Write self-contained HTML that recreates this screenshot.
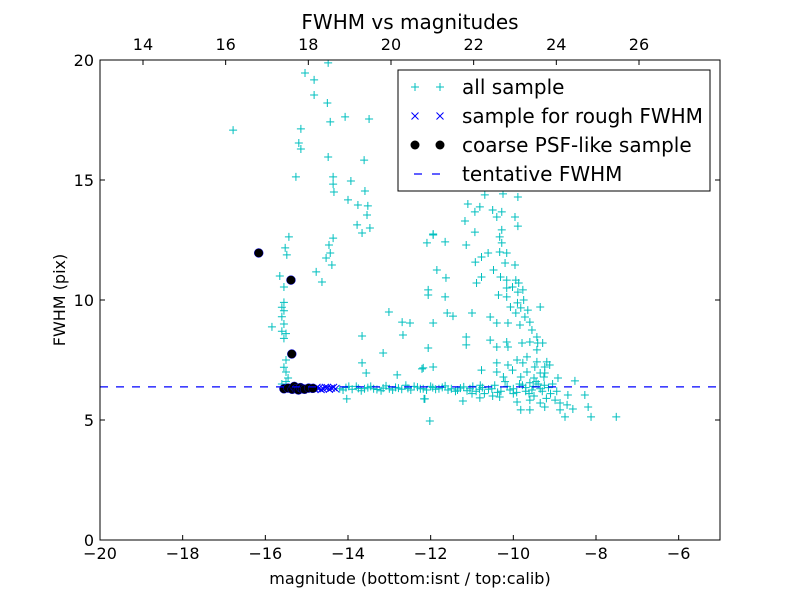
<!DOCTYPE html>
<html><head><meta charset="utf-8"><style>
body{margin:0;background:#fff;}
svg{display:block;font-family:"DejaVu Sans","Liberation Sans",sans-serif;}
</style></head><body>
<svg id="chart" width="800" height="600" viewBox="0 0 800 600" xmlns="http://www.w3.org/2000/svg">
<rect width="800" height="600" fill="#fff"/>
<g id="marks"></g>
<g id="axes"></g>
</svg>
<script>
const xTicks = [-20,-18,-16,-14,-12,-10,-8,-6];
const topTicks = [14,16,18,20,22,24,26];
const yTicks = [0,5,10,15,20];
const topOffset = 32.96;
const tentativeFwhm = 6.38;
const allSample = [
[-15.04,19.46],[-14.82,19.17],[-14.82,18.54],[-14.5,18.21],[-14.48,19.88],[-14.43,17.42],[-15.14,17.13],[-15.19,16.54],[-15.14,16.29],[-14.48,15.96],[-15.26,15.13],[-14.36,15.13],[-14.36,14.83],[-14.34,14.5],[-14.07,17.63],[-13.49,17.54],[-13.61,15.83],[-13.93,14.96],[-13.59,14.54],[-14.0,14.17],[-13.76,13.96],[-13.52,13.92],[-13.54,13.54],[-13.78,13.13],[-13.47,13.0],[-13.66,12.79],[-14.36,12.58],[-14.46,12.29],[-14.43,11.96],[-14.53,11.75],[-14.39,11.46],[-14.77,11.17],[-14.63,10.75],[-15.43,12.63],[-15.52,12.17],[-15.48,11.88],[-15.65,11.0],[-15.55,10.54],[-15.84,8.88],[-13.01,9.5],[-12.69,9.08],[-12.5,9.04],[-12.67,8.54],[-13.66,8.5],[-13.15,7.79],[-13.66,7.38],[-13.56,6.96],[-12.81,6.88],[-12.21,7.13],[-11.94,7.21],[-12.06,8.0],[-11.94,9.04],[-12.06,10.42],[-11.85,11.25],[-11.94,12.71],[-12.09,12.38],[-14.03,5.88],[-12.14,5.88],[-16.78,17.08],
[-15.6,9.7],[-15.55,9.55],[-15.6,9.3],[-15.55,9.0],[-15.6,8.7],[-15.5,8.6],[-15.55,8.4],[-15.5,7.5],[-15.55,7.2],[-15.5,7.0],[-15.45,6.75],[-15.5,6.6],[-15.6,6.5],[-15.55,9.9],
[-10.69,14.38],[-10.25,14.42],[-9.89,14.29],[-11.1,14.0],[-10.81,13.88],[-10.93,13.67],[-10.5,13.75],[-10.28,13.67],[-11.17,13.29],[-10.4,13.46],[-9.96,13.46],[-9.89,13.08],[-10.93,12.83],[-10.28,12.92],[-11.94,12.75],[-11.65,12.42],[-11.14,12.29],[-10.33,12.63],[-10.28,12.38],[-10.61,11.96],[-10.33,12.0],[-10.16,11.96],[-10.92,11.58],[-10.77,11.79],[-10.2,11.54],[-9.96,11.46],[-11.63,10.92],[-10.77,10.96],[-10.48,11.25],[-10.89,10.71],[-10.31,10.96],[-10.16,10.83],[-9.94,10.83],[-9.87,10.71],[-10.16,10.5],[-10.02,10.54],[-9.89,10.33],[-9.77,10.42],[-12.06,10.21],[-11.65,10.13],[-10.36,10.21],[-10.16,10.13],[-10.07,9.71],[-9.9,9.88],[-9.82,9.67],[-9.75,10.0],[-9.65,9.58],[-9.94,9.46],[-9.35,9.71],[-11.6,9.46],[-11.46,9.33],[-11.0,9.46],[-10.56,9.29],[-10.4,9.04],[-10.13,9.04],[-9.84,8.96],[-9.6,9.08],[-9.55,8.75],[-9.72,9.29],[-11.14,8.46],[-11.14,8.13],[-10.56,8.33],[-10.4,8.04],[-10.16,8.25],[-10.13,8.04],[-9.79,8.21],[-9.6,8.25],[-9.43,8.46],[-9.41,8.21],[-9.29,8.21],[-9.43,7.92],[-9.91,7.5],[-9.67,7.63],[-9.77,7.38],[-9.43,7.42],[-9.19,7.42],[-10.4,7.38],[-10.13,7.29],[-9.48,7.21],[-9.24,7.21],[-9.12,7.29],[-12.18,7.17],[-10.77,7.08],[-10.4,7.0],[-10.02,7.08],[-9.67,7.0],[-9.35,6.96],[-9.24,6.96],[-10.24,6.79],[-9.82,6.79],[-9.5,6.75],[-9.26,6.79],[-8.92,6.75],[-8.51,6.63],
[-12.16,5.88],[-11.22,5.79],[-10.81,5.92],[-10.33,5.96],[-9.91,5.75],[-9.6,5.83],[-9.35,5.71],[-8.99,5.83],[-8.87,5.71],[-8.7,5.63],[-8.56,5.46],[-8.19,5.54],[-9.82,5.42],[-9.6,5.42],[-9.24,5.54],[-8.87,5.42],[-8.75,5.13],[-8.12,5.13],[-7.51,5.13],[-12.02,4.96],[-8.27,6.04],[-8.68,6.04],[-10.5,6.0],[-10.0,6.1],[-9.5,6.0],[-9.2,5.9],[-11.0,6.1],[-9.7,6.2],[-9.4,6.5],[-9.1,6.1],[-10.8,6.45],
[-14.2,6.3],[-14.05,6.35],[-13.9,6.28],[-13.75,6.32],[-13.6,6.3],[-13.45,6.4],[-13.3,6.27],[-13.15,6.33],[-13.0,6.3],[-12.85,6.36],[-12.7,6.28],[-12.55,6.32],[-12.4,6.4],[-12.25,6.3],[-12.1,6.25],[-11.95,6.35],[-11.8,6.3],[-11.65,6.42],[-11.5,6.3],[-11.35,6.25],[-11.2,6.38],[-11.05,6.3],[-10.9,6.2],[-10.75,6.35],[-10.6,6.28],[-10.45,6.45],[-10.3,6.2],[-10.15,6.4],[-10.0,6.3],[-9.85,6.5],[-9.7,6.35],[-9.55,6.25],[-9.45,6.6],[-9.35,6.3],[-9.25,6.45],[-13.8,6.4],[-13.2,6.22],[-12.6,6.45],[-12.0,6.4],[-11.4,6.2],[-10.7,6.1],[-10.2,6.6],[-9.6,6.55],
[-14.12,6.25],[-13.98,6.4],[-13.68,6.22],[-13.52,6.35],[-13.38,6.3],[-13.08,6.42],[-12.92,6.25],[-12.78,6.33],[-12.48,6.25],[-12.32,6.37],[-12.18,6.3],[-11.88,6.28],[-11.72,6.36],[-11.58,6.25],[-11.28,6.33],[-11.12,6.22],[-10.98,6.4],[-10.82,6.28],[-10.52,6.3],[-10.38,6.15],[-10.08,6.25],[-9.92,6.15],[-9.78,6.45],[-9.62,6.1],[-9.52,6.4],[-9.3,6.2],[-9.15,6.35],[-9.05,6.5],[-8.95,6.2]
];
const roughSample = [[-15.1,6.33],[-15.0,6.3],[-14.9,6.35],[-14.8,6.28],[-14.75,6.36],[-14.7,6.32],[-14.65,6.27],[-14.6,6.3],[-14.55,6.36],[-14.5,6.35],[-14.45,6.28],[-14.4,6.33],[-14.35,6.36],[-14.3,6.3]];
const psfSample = [[-16.16,11.96],[-15.38,10.83],[-15.36,7.75],[-15.55,6.3],[-15.45,6.33],[-15.35,6.28],[-15.3,6.4],[-15.25,6.3],[-15.2,6.25],[-15.15,6.35],[-15.1,6.3],[-15.05,6.28],[-14.95,6.33],[-14.85,6.32]];

const NS='http://www.w3.org/2000/svg';
const L=100,R=720,T=60,B=540;
const xs=v=>L+(v+20)/15*(R-L);
const ys=v=>B-v/20*(B-T);
const marks=document.getElementById('marks');
const axes=document.getElementById('axes');
function mk(tag,attrs,parent){const e=document.createElementNS(NS,tag);for(const k in attrs)e.setAttribute(k,attrs[k]);parent.appendChild(e);return e;}
function plus(g,cx,cy){
  return mk('path',{d:`M${cx-4},${cy}H${cx+4}M${cx},${cy-4}V${cy+4}`,stroke:'#00bfbf','stroke-width':1},g);
}
function cross(g,cx,cy){
  return mk('path',{d:`M${cx-3.5},${cy-3.5}L${cx+3.5},${cy+3.5}M${cx-3.5},${cy+3.5}L${cx+3.5},${cy-3.5}`,stroke:'#0000ff','stroke-width':1},g);
}
function dot(g,cx,cy){
  return mk('circle',{cx:cx,cy:cy,r:4.5,fill:'#000',stroke:'#0000ff','stroke-width':0.4},g);
}
const defs=mk('defs',{},marks);
const cp=mk('clipPath',{id:'clip'},defs);
mk('rect',{x:L,y:T,width:R-L,height:B-T},cp);
const g1=mk('g',{'clip-path':'url(#clip)'},marks);


allSample.forEach(d=>{const p=plus(g1,xs(d[0]),ys(d[1]));

});
const g2=mk('g',{'clip-path':'url(#clip)'},marks);


roughSample.forEach(d=>{const p=cross(g2,xs(d[0]),ys(d[1]));

});
const g3=mk('g',{'clip-path':'url(#clip)'},marks);


psfSample.forEach(d=>{const p=dot(g3,xs(d[0]),ys(d[1]));

});
const hl=mk('line',{x1:L,x2:R,y1:ys(tentativeFwhm),y2:ys(tentativeFwhm),stroke:'#0000ff','stroke-width':1.2,'stroke-dasharray':'8,8'},marks);



const fr=mk('rect',{x:L,y:T,width:R-L,height:B-T,fill:'none',stroke:'#000','stroke-width':1},axes);


xTicks.forEach(v=>{const x=xs(v);
 mk('line',{x1:x,x2:x,y1:B,y2:B-5,stroke:'#000'},axes);
 const t=mk('text',{x:x,y:559,'font-size':16,'text-anchor':'middle'},axes);
 t.textContent=(v<0?'\u2212'+(-v):v);
 
 });
topTicks.forEach(v=>{const x=xs(v-topOffset);
 mk('line',{x1:x,x2:x,y1:T,y2:T+5,stroke:'#000'},axes);
 const t=mk('text',{x:x,y:50,'font-size':16,'text-anchor':'middle'},axes);
 t.textContent=v;
 
 });
yTicks.forEach(v=>{const y=ys(v);
 mk('line',{x1:L,x2:L+5,y1:y,y2:y,stroke:'#000'},axes);
 mk('line',{x1:R,x2:R-5,y1:y,y2:y,stroke:'#000'},axes);
 const t=mk('text',{x:94,y:y+6,'font-size':16,'text-anchor':'end'},axes);
 t.textContent=v;
 
 });
</script>
<script>
(function(){
const svg=document.getElementById('chart');
const NS='http://www.w3.org/2000/svg';
function txt(s,attrs,name){const e=document.createElementNS(NS,'text');for(const k in attrs)e.setAttribute(k,attrs[k]);e.textContent=s;


svg.appendChild(e);return e;}
txt('FWHM vs magnitudes',{x:410,y:29,'font-size':20,'text-anchor':'middle'},'chart-title');
txt('magnitude (bottom:isnt / top:calib)',{x:410,y:584,'font-size':16,'text-anchor':'middle'},'x-axis-title');
txt('FWHM (pix)',{x:0,y:0,'font-size':16,'text-anchor':'middle',transform:'translate(65,300) rotate(-90)'},'y-axis-title');
const lg=document.createElementNS(NS,'g');


svg.appendChild(lg);
const box=document.createElementNS(NS,'rect');
box.setAttribute('x',398);box.setAttribute('y',70);box.setAttribute('width',312);box.setAttribute('height',121);
box.setAttribute('fill','#fff');box.setAttribute('stroke','#000');
lg.appendChild(box);
const rows=[['all sample',87],['sample for rough FWHM',116],['coarse PSF-like sample',145],['tentative FWHM',174]];
rows.forEach((r,i)=>{
 const y=r[1];
 let m='';
 if(i===0)m=`<path d="M411,${y}h8M415,${y-4}v8M436,${y}h8M440,${y-4}v8" stroke="#00bfbf"/>`;
 if(i===1)m=`<path d="M411.5,${y-3.5}l7,7M411.5,${y+3.5}l7,-7M436.5,${y-3.5}l7,7M436.5,${y+3.5}l7,-7" stroke="#0000ff"/>`;
 if(i===2)m=`<circle cx="415" cy="${y}" r="4.5" fill="#000"/><circle cx="440" cy="${y}" r="4.5" fill="#000"/>`;
 if(i===3)m=`<path d="M414,${y}h8M432,${y}h8" stroke="#0000ff" stroke-width="1.3"/>`;
 const g=document.createElementNS(NS,'g');
 
 
 g.innerHTML=m+`<text x="462" y="${y+7}" font-size="20">${r[0]}</text>`;
 lg.appendChild(g);
});
})();
</script>
</body></html>
